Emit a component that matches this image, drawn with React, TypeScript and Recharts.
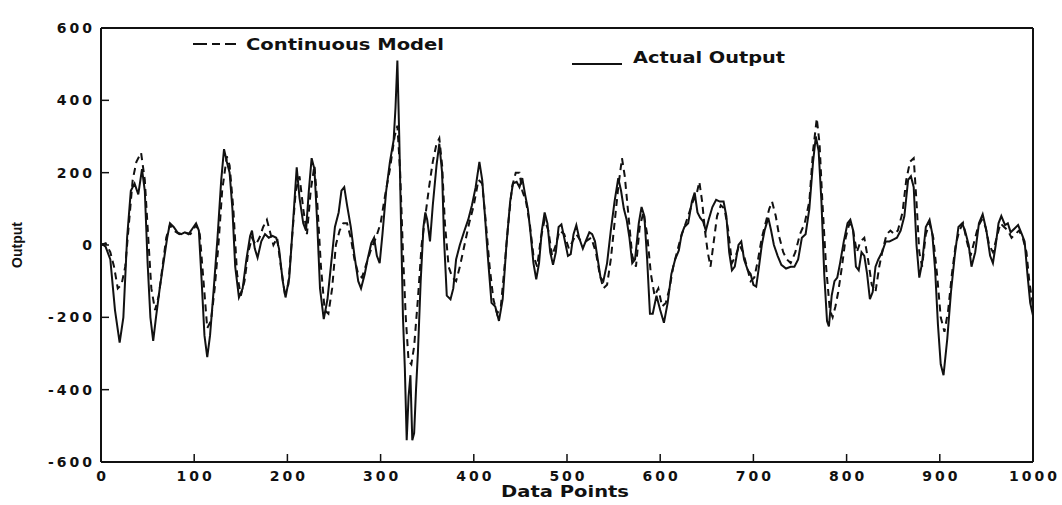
import { LineChart, Line, XAxis, YAxis, Legend } from 'recharts';

const xTicks = [0, 100, 200, 300, 400, 500, 600, 700, 800, 900, 1000];
const yTicks = [-600, -400, -200, 0, 200, 400, 600];

// [data point, output]
const actualOutput: [number, number][] = [
  [0, 5], [5, -5], [10, -40], [15, -180], [20, -270], [24, -200], [28, 20], [32, 150], [36, 170], [40, 140],
  [44, 210], [47, 150], [50, -50], [53, -200], [56, -265], [59, -200], [63, -120], [67, -50], [71, 20], [74, 60],
  [78, 50], [82, 35], [86, 30], [90, 35], [94, 30], [98, 45], [102, 60], [105, 40], [108, -100], [111, -250],
  [114, -310], [117, -250], [121, -120], [125, 20], [129, 180], [132, 265], [135, 230], [138, 200], [141, 100], [144, -60],
  [148, -145], [152, -120], [156, -40], [160, 25], [162, 40], [165, -10], [168, -35], [172, 10], [176, 30], [180, 20],
  [184, 25], [188, 20], [191, -10], [195, -100], [198, -145], [202, -90], [206, 60], [210, 215], [213, 130], [217, 60],
  [220, 40], [223, 150], [226, 240], [229, 210], [232, 60], [235, -120], [239, -205], [243, -150], [247, -50], [251, 50],
  [255, 90], [258, 150], [261, 160], [264, 110], [268, 50], [272, -30], [276, -100], [279, -120], [283, -80], [286, -40],
  [290, 5], [293, 20], [296, -30], [299, -50], [302, 30], [306, 150], [310, 230], [314, 290], [316, 380], [318, 510],
  [320, 300], [322, 50], [324, -200], [326, -340], [328, -540], [330, -420], [332, -360], [334, -540], [336, -520], [338, -400],
  [340, -300], [343, -100], [346, 50], [348, 90], [350, 70], [353, 10], [356, 110], [360, 220], [363, 280], [366, 200],
  [368, 20], [371, -140], [375, -150], [378, -120], [381, -40], [385, 0], [390, 40], [394, 70], [398, 110], [402, 160],
  [406, 230], [409, 180], [412, 80], [415, -30], [419, -160], [423, -170], [427, -210], [431, -150], [435, 0], [439, 120],
  [442, 170], [446, 175], [449, 160], [452, 185], [455, 140], [458, 100], [461, 30], [464, -50], [467, -95], [470, -50],
  [473, 40], [476, 90], [479, 60], [482, -20], [485, -55], [488, -20], [491, 50], [494, 57], [497, 20], [501, -30],
  [504, -25], [507, 30], [510, 55], [513, 20], [517, -10], [520, 10], [524, 35], [527, 30], [530, 10], [533, -40],
  [536, -90], [539, -100], [543, -50], [547, 40], [551, 120], [555, 185], [558, 150], [561, 100], [564, 70], [567, 20],
  [570, -50], [573, -40], [577, 60], [580, 105], [583, 80], [586, -40], [589, -190], [592, -190], [596, -140], [600, -180],
  [604, -215], [608, -160], [612, -80], [616, -40], [620, -15], [623, 30], [626, 50], [630, 60], [634, 120], [637, 145],
  [640, 90], [643, 75], [646, 65], [649, 40], [652, 70], [656, 105], [660, 125], [664, 120], [668, 120], [671, 80],
  [674, -20], [677, -70], [680, -60], [684, 0], [687, 10], [690, -40], [694, -70], [697, -80], [700, -110], [703, -115],
  [706, -60], [709, 0], [712, 40], [716, 75], [719, 40], [722, 0], [726, -30], [730, -55], [735, -65], [740, -60],
  [744, -60], [748, -40], [752, 20], [756, 30], [760, 100], [764, 230], [767, 300], [770, 260], [773, 120], [776, -80],
  [779, -210], [781, -225], [784, -140], [787, -100], [790, -90], [793, -50], [797, 10], [801, 60], [804, 70], [807, 40],
  [810, -60], [813, -70], [816, -20], [819, -30], [822, -80], [825, -150], [828, -130], [831, -60], [834, -40], [838, -20],
  [842, 10], [846, 10], [850, 15], [854, 20], [858, 40], [862, 80], [866, 180], [869, 190], [872, 160], [875, 0],
  [878, -90], [881, -50], [885, 50], [889, 70], [892, 30], [895, -70], [898, -220], [901, -330], [904, -360], [908, -260],
  [912, -130], [916, -30], [920, 50], [924, 60], [927, 40], [931, 0], [934, -60], [938, -20], [942, 60], [946, 85],
  [950, 40], [954, -30], [957, -50], [960, 0], [963, 60], [966, 80], [970, 55], [973, 60], [976, 35], [980, 45],
  [984, 55], [988, 30], [991, 10], [994, -80], [997, -160], [1000, -195],
];

const continuousModel: [number, number][] = [
  [0, 0], [5, 5], [10, -20], [14, -60], [18, -120], [22, -110], [26, -60], [30, 60], [34, 180], [38, 230],
  [43, 255], [47, 180], [50, 50], [54, -120], [58, -180], [62, -140], [66, -60], [70, 20], [74, 55], [78, 40],
  [84, 30], [90, 35], [96, 30], [102, 55], [106, 30], [110, -100], [114, -230], [118, -210], [122, -120], [126, 0],
  [130, 150], [135, 245], [138, 220], [142, 100], [146, -80], [150, -140], [154, -100], [158, -20], [162, 20], [166, 0],
  [170, 20], [174, 50], [178, 70], [181, 40], [185, 0], [189, 20], [193, -60], [197, -130], [201, -110], [205, 20],
  [209, 150], [213, 190], [217, 100], [221, 30], [225, 150], [229, 220], [232, 120], [236, -60], [240, -180], [244, -190],
  [248, -120], [252, 0], [256, 40], [260, 60], [264, 60], [268, 20], [272, -40], [276, -80], [280, -90], [285, -50],
  [290, -10], [295, 20], [300, 60], [305, 140], [310, 210], [315, 300], [318, 330], [321, 200], [324, -20], [327, -200],
  [330, -320], [333, -330], [336, -280], [340, -150], [344, 0], [348, 80], [352, 160], [356, 230], [360, 280], [363, 295],
  [366, 220], [369, 60], [373, -60], [377, -90], [381, -100], [385, -60], [390, 0], [395, 60], [400, 110], [405, 180],
  [409, 170], [413, 60], [417, -60], [421, -150], [425, -190], [429, -170], [433, -60], [437, 60], [441, 160], [445, 200],
  [449, 200], [452, 150], [456, 120], [460, 60], [464, -30], [468, -60], [472, 20], [476, 70], [480, 40], [484, -30],
  [488, 0], [492, 40], [497, 30], [502, -10], [506, 10], [510, 30], [515, 10], [520, 10], [526, 20], [531, -20],
  [535, -80], [539, -120], [543, -110], [547, -40], [551, 60], [555, 160], [559, 240], [562, 190], [566, 80], [570, -30],
  [574, -60], [578, 50], [582, 90], [586, 30], [590, -80], [594, -140], [598, -120], [602, -170], [606, -160], [610, -120],
  [614, -60], [618, -20], [622, 20], [626, 50], [630, 80], [635, 120], [639, 140], [642, 175], [645, 120], [648, 40],
  [651, -20], [654, -60], [657, 0], [661, 80], [665, 110], [669, 100], [673, 40], [677, -50], [681, -30], [685, 0],
  [689, -20], [693, -60], [697, -100], [701, -90], [705, -40], [709, 20], [713, 60], [717, 100], [720, 120], [724, 80],
  [728, 20], [732, -20], [736, -40], [740, -50], [745, -20], [750, 30], [755, 60], [760, 120], [764, 260], [768, 350],
  [771, 280], [774, 120], [778, -60], [782, -180], [785, -200], [788, -170], [791, -130], [795, -60], [799, 20], [803, 60],
  [807, 40], [811, -20], [815, 10], [819, 20], [823, -40], [827, -110], [831, -130], [835, -60], [839, -10], [843, 30],
  [847, 40], [851, 30], [855, 40], [860, 90], [864, 180], [868, 230], [872, 240], [875, 120], [878, -20], [881, -60],
  [885, 30], [889, 60], [893, 20], [897, -80], [901, -200], [905, -240], [909, -180], [913, -80], [917, 0], [921, 40],
  [925, 60], [929, 10], [933, -30], [937, 10], [941, 50], [945, 70], [949, 50], [953, 0], [957, -20], [961, 20],
  [965, 60], [969, 50], [973, 40], [977, 20], [981, 30], [985, 40], [989, 20], [993, -20], [996, -100], [1000, -170],
];

const actualData = actualOutput.map(([i, v]) => ({ i, v }));
const modelData = continuousModel.map(([i, v]) => ({ i, v }));

const INK = '#111';
const FONT = '"DejaVu Sans", Arial, sans-serif';

function YTick({ x, y, payload }: any) {
  return (
    <text x={x} y={y} dy={5} textAnchor="end" fontFamily={FONT} fontSize={14} fontWeight={700} letterSpacing={3} fill={INK}>
      {payload.value}
    </text>
  );
}

function XTick({ x, y, payload }: any) {
  return (
    <text x={x + 1.5} y={y} dy={11} textAnchor="middle" fontFamily={FONT} fontSize={14} fontWeight={700} letterSpacing={3} fill={INK}>
      {payload.value}
    </text>
  );
}

function LegendBox() {
  return (
    <svg width={1062} height={505} style={{ position: 'absolute', left: 0, top: 0 }}>
      <line x1={193} y1={44} x2={236} y2={44} stroke={INK} strokeWidth={2} strokeDasharray="14 5 8 5" />
      <text x={246} y={50} fontFamily={FONT} fontSize={16} fontWeight={700} fill={INK} textLength={198} lengthAdjust="spacingAndGlyphs">
        Continuous Model
      </text>
      <line x1={572} y1={64} x2={622} y2={64} stroke={INK} strokeWidth={2} />
      <text x={633} y={63} fontFamily={FONT} fontSize={16} fontWeight={700} fill={INK} textLength={152} lengthAdjust="spacingAndGlyphs">
        Actual Output
      </text>
    </svg>
  );
}

export default function App() {
  return (
    <div style={{ width: 1062, height: 505, background: '#fff' }}>
      <style>{'body{margin:0}'}</style>
      <LineChart width={1062} height={505} margin={{ top: 27, right: 28, bottom: 13, left: 0 }}>
        <XAxis
          dataKey="i"
          type="number"
          domain={[0, 1000]}
          ticks={xTicks}
          height={30}
          stroke={INK}
          axisLine={{ stroke: INK, strokeWidth: 2 }}
          tickLine={{ stroke: INK, strokeWidth: 1.5 }}
          tickSize={-8}
          tickMargin={16}
          tick={<XTick />}
          label={(p: any) => (
            <text
              x={565}
              y={p.viewBox ? p.viewBox.y + 35 : 497}
              textAnchor="middle"
              fontFamily={FONT}
              fontSize={15}
              fontWeight={700}
              fill={INK}
              textLength={128}
              lengthAdjust="spacingAndGlyphs"
            >
              Data Points
            </text>
          )}
        />
        <XAxis
          xAxisId="top"
          orientation="top"
          type="number"
          domain={[0, 1000]}
          ticks={xTicks}
          height={1}
          stroke={INK}
          axisLine={{ stroke: INK, strokeWidth: 2 }}
          tickLine={{ stroke: INK, strokeWidth: 1.5 }}
          tickSize={-8}
          tick={false}
        />
        <YAxis
          type="number"
          domain={[-600, 600]}
          ticks={yTicks}
          width={101}
          stroke={INK}
          axisLine={{ stroke: INK, strokeWidth: 2 }}
          tickLine={{ stroke: INK, strokeWidth: 1.5 }}
          tickSize={-8}
          tickMargin={14}
          tick={<YTick />}
          label={(p: any) => {
            const cy = p.viewBox ? p.viewBox.y + p.viewBox.height / 2 : 245;
            return (
              <text
                x={22}
                y={cy}
                transform={`rotate(-90, 22, ${cy})`}
                textAnchor="middle"
                fontFamily='"Liberation Sans Narrow", "Liberation Sans", Arial, sans-serif'
                fontSize={15}
                fontWeight={700}
                fill={INK}
                textLength={46}
                lengthAdjust="spacingAndGlyphs"
              >
                Output
              </text>
            );
          }}
        />
        <YAxis
          yAxisId="right"
          orientation="right"
          type="number"
          domain={[-600, 600]}
          ticks={yTicks}
          width={1}
          stroke={INK}
          axisLine={{ stroke: INK, strokeWidth: 2 }}
          tickLine={{ stroke: INK, strokeWidth: 1.5 }}
          tickSize={-8}
          tick={false}
        />
        <Legend
          layout="horizontal"
          verticalAlign="middle"
          align="center"
          wrapperStyle={{ position: 'absolute', left: 0, top: 0, width: 1062, height: 505, pointerEvents: 'none' }}
          content={() => <LegendBox />}
        />
        <Line
          data={modelData}
          dataKey="v"
          name="Continuous Model"
          type="linear"
          stroke={INK}
          strokeWidth={2}
          strokeDasharray="7 5"
          dot={false}
          isAnimationActive={false}
        />
        <Line
          data={actualData}
          dataKey="v"
          name="Actual Output"
          type="linear"
          stroke={INK}
          strokeWidth={2}
          dot={false}
          isAnimationActive={false}
        />
      </LineChart>
    </div>
  );
}
